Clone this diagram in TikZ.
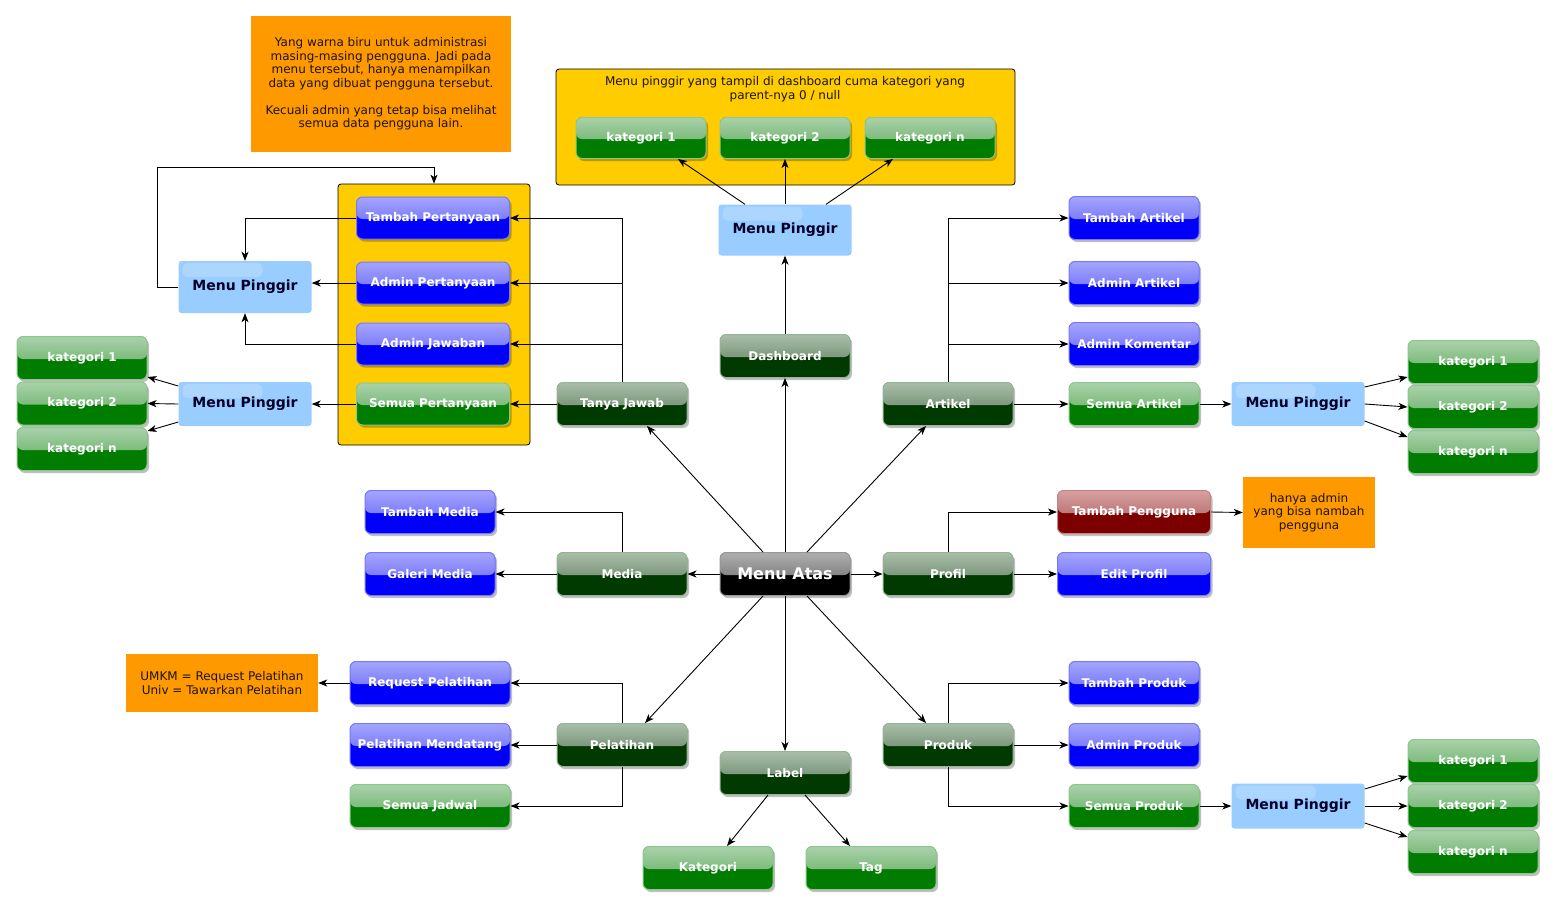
\documentclass[tikz,border=0pt]{standalone}
\usepackage{fontspec}
\setmainfont{DejaVu Sans}
\usetikzlibrary{arrows.meta,shadows,calc}
\definecolor{dgB}{RGB}{0,58,0}
\definecolor{dgT1}{RGB}{170,190,170}
\definecolor{dgT2}{RGB}{85,115,85}
\definecolor{dgL}{RGB}{150,180,150}
\definecolor{bkB}{RGB}{0,0,0}
\definecolor{bkT1}{RGB}{175,175,175}
\definecolor{bkT2}{RGB}{95,95,95}
\definecolor{bkL}{RGB}{150,150,150}
\definecolor{blB}{RGB}{0,0,250}
\definecolor{blT1}{RGB}{165,165,255}
\definecolor{blT2}{RGB}{90,90,245}
\definecolor{blL}{RGB}{120,120,255}
\definecolor{gnB}{RGB}{0,125,0}
\definecolor{gnT1}{RGB}{170,210,170}
\definecolor{gnT2}{RGB}{85,165,85}
\definecolor{gnL}{RGB}{140,200,140}
\definecolor{rdB}{RGB}{125,0,0}
\definecolor{rdT1}{RGB}{215,160,160}
\definecolor{rdT2}{RGB}{165,85,85}
\definecolor{rdL}{RGB}{200,130,130}
\definecolor{mpC}{RGB}{153,204,255}
\definecolor{mpTx}{RGB}{0,0,40}
\definecolor{yelC}{RGB}{255,204,0}
\definecolor{orC}{RGB}{255,153,0}
\definecolor{noteTx}{RGB}{30,20,0}
\tikzset{
  btnbase/.style={rounded corners=6pt, minimum height=43pt, minimum width=130pt, inner sep=2pt,
    text=white, font=\bfseries\fontsize{12}{13}\selectfont, line width=1pt,
    drop shadow={shadow xshift=2pt, shadow yshift=-2.5pt, opacity=0.25, fill=black}},
  btncol/.style n args={4}{fill=#1, draw=#2,
    path picture={\fill[top color=#3, bottom color=#4] (path picture bounding box.north west) rectangle ([yshift=-1pt]path picture bounding box.east);}},
  dgbtn/.style={btnbase, btncol={dgB}{dgL}{dgT1}{dgT2}},
  bkbtn/.style={btnbase, btncol={bkB}{bkL}{bkT1}{bkT2}, font=\bfseries\fontsize{16}{18}\selectfont},
  blbtn/.style={btnbase, btncol={blB}{blL}{blT1}{blT2}},
  gnbtn/.style={btnbase, btncol={gnB}{gnL}{gnT1}{gnT2}},
  rdbtn/.style={btnbase, btncol={rdB}{rdL}{rdT1}{rdT2}},
  mpbox/.style={rounded corners=3pt, fill=mpC, minimum width=133pt, text=mpTx,
    font=\bfseries\fontsize{14}{16}\selectfont,
    path picture={\fill[white,opacity=0.2,rounded corners=5pt] ([xshift=4pt,yshift=-2pt]path picture bounding box.north west) rectangle ([xshift=84pt,yshift=-16pt]path picture bounding box.north west);}},
  yelbox/.style={draw=black, fill=yelC, rounded corners=3pt, line width=0.8pt},
  notebox/.style={fill=orC, align=center, text=noteTx, inner sep=0pt, font=\fontsize{12}{13.5}\selectfont},
  arr/.style={draw=black, line width=0.9pt, -{Stealth[length=9pt,width=7pt,inset=2.5pt]}},
}
\begin{document}
\begin{tikzpicture}[x=1pt,y=-1pt]
\useasboundingbox (0,0) rectangle (1555,906);
\fill[white] (0,0) rectangle (1555,906);
% containers
\node[yelbox, minimum width=192pt, minimum height=261pt] (contL) at (434,314.5) {};
\node[yelbox, minimum width=459pt, minimum height=116pt] (contT) at (785.5,127) {};
\node[align=center, text=noteTx, font=\fontsize{12}{13.5}\selectfont] (contTtxt) at (785,89) {Menu pinggir yang tampil di dashboard cuma kategori yang\\parent-nya 0 / null};
% notes
\node[notebox, minimum width=260pt, minimum height=136pt] (noteTop) at (381,84) {Yang warna biru untuk administrasi\\masing-masing pengguna. Jadi pada\\menu tersebut, hanya menampilkan\\data yang dibuat pengguna tersebut.\\[13.5pt]Kecuali admin yang tetap bisa melihat\\semua data pengguna lain.};
\node[notebox, minimum width=132pt, minimum height=71pt] (noteR) at (1309,512.5) {hanya admin\\yang bisa nambah\\pengguna};
\node[notebox, minimum width=192pt, minimum height=58pt] (noteU) at (222,683) {UMKM = Request Pelatihan\\Univ = Tawarkan Pelatihan};
% main
\node[bkbtn] (ma) at (785,574) {Menu Atas};
\node[dgbtn] (tj) at (622,404) {Tanya Jawab};
\node[dgbtn] (db) at (785,356) {Dashboard};
\node[dgbtn] (ar) at (948,404) {Artikel};
\node[dgbtn] (me) at (622,574) {Media};
\node[dgbtn] (pr) at (948,574) {Profil};
\node[dgbtn] (pl) at (622,745) {Pelatihan};
\node[dgbtn] (lb) at (785,773) {Label};
\node[dgbtn] (pd) at (948,745) {Produk};
% tanya jawab
\node[blbtn, minimum width=153pt, minimum height=42pt] (tp) at (433,218) {Tambah Pertanyaan};
\node[blbtn, minimum width=153pt, minimum height=42pt] (ap) at (433,283) {Admin Pertanyaan};
\node[blbtn, minimum width=153pt, minimum height=42pt] (aj) at (433,344) {Admin Jawaban};
\node[gnbtn, minimum width=153pt, minimum height=42pt] (sp) at (433,404) {Semua Pertanyaan};
\node[mpbox, minimum height=52pt] (mp1) at (245,287) {Menu Pinggir};
\node[mpbox, minimum height=44pt] (mp2) at (245,404) {Menu Pinggir};
\node[gnbtn] (kl1) at (82,358) {kategori 1};
\node[gnbtn] (kl2) at (82,403.5) {kategori 2};
\node[gnbtn] (kln) at (82,449) {kategori n};
% dashboard
\node[mpbox, minimum height=51pt] (mpT) at (785,230) {Menu Pinggir};
\node[gnbtn, minimum height=41pt] (kt1) at (641,138) {kategori 1};
\node[gnbtn, minimum height=41pt] (kt2) at (785,138) {kategori 2};
\node[gnbtn, minimum height=41pt] (ktn) at (930,138) {kategori n};
% media
\node[blbtn] (tm) at (430,512) {Tambah Media};
\node[blbtn] (gm) at (430,574) {Galeri Media};
% artikel
\node[blbtn] (ta) at (1134,218) {Tambah Artikel};
\node[blbtn] (aa) at (1134,283) {Admin Artikel};
\node[blbtn] (ak) at (1134,344) {Admin Komentar};
\node[gnbtn] (sa) at (1134,404) {Semua Artikel};
\node[mpbox, minimum height=44pt] (mpR) at (1298,404) {Menu Pinggir};
\node[gnbtn] (kr1) at (1473,362) {kategori 1};
\node[gnbtn] (kr2) at (1473,407) {kategori 2};
\node[gnbtn] (krn) at (1473,452) {kategori n};
% profil
\node[rdbtn, minimum width=153pt] (tpg) at (1134,512) {Tambah Pengguna};
\node[blbtn, minimum width=153pt] (ep) at (1134,574) {Edit Profil};
% produk
\node[blbtn] (tpr) at (1134,683) {Tambah Produk};
\node[blbtn] (apr) at (1134,745) {Admin Produk};
\node[gnbtn] (spr) at (1134,806) {Semua Produk};
\node[mpbox, minimum height=45pt] (mpRB) at (1298,806) {Menu Pinggir};
\node[gnbtn] (krb1) at (1473,761) {kategori 1};
\node[gnbtn] (krb2) at (1473,806) {kategori 2};
\node[gnbtn] (krbn) at (1473,852) {kategori n};
% pelatihan
\node[blbtn, minimum width=160pt] (rp) at (430,683) {Request Pelatihan};
\node[blbtn, minimum width=160pt] (pm) at (430,745) {Pelatihan Mendatang};
\node[gnbtn, minimum width=160pt] (sj) at (430,806) {Semua Jadwal};
% label
\node[gnbtn] (kat) at (708,868) {Kategori};
\node[gnbtn] (tag) at (871,868) {Tag};
\coordinate (loopc) at (157,167);
% connectors from Menu Atas
\draw[arr] ([xshift=-22pt]ma.north) -- ([xshift=25pt]tj.south);
\draw[arr] (ma.north) -- (db.south);
\draw[arr] ([xshift=22pt]ma.north) -- ([xshift=-22pt]ar.south);
\draw[arr] (ma.west) -- (me.east);
\draw[arr] (ma.east) -- (pr.west);
\draw[arr] ([xshift=-22pt]ma.south) -- ([xshift=23pt]pl.north);
\draw[arr] (ma.south) -- (lb.north);
\draw[arr] ([xshift=22pt]ma.south) -- ([xshift=-22pt]pd.north);
% dashboard
\draw[arr] (db.north) -- (mpT.south);
\draw[arr] ([xshift=-40pt]mpT.north) -- ([xshift=37pt]kt1.south);
\draw[arr] (mpT.north) -- (kt2.south);
\draw[arr] ([xshift=41pt]mpT.north) -- ([xshift=-37pt]ktn.south);
% tanya jawab
\draw[arr] (tj.north) |- (tp.east);
\draw[arr] (tj.north) |- (ap.east);
\draw[arr] (tj.north) |- (aj.east);
\draw[arr] (tj.west) -- (sp.east);
\draw[arr] (tp.west) -| (mp1.north);
\draw[arr] (ap.west) -- (ap.west -| mp1.east);
\draw[arr] (aj.west) -| (mp1.south);
\draw[arr] (mp1.west) -| (loopc) -| (contL.north);
\draw[arr] (sp.west) -- (mp2.east);
\draw[arr] ([yshift=18pt]mp2.west) -- ([yshift=-19pt]kl1.east);
\draw[arr] (mp2.west) -- (kl2.east);
\draw[arr] ([yshift=-18pt]mp2.west) -- ([yshift=18pt]kln.east);
% artikel
\draw[arr] (ar.north) |- (ta.west);
\draw[arr] (ar.north) |- (aa.west);
\draw[arr] (ar.north) |- (ak.west);
\draw[arr] (ar.east) -- (sa.west);
\draw[arr] (sa.east) -- (mpR.west);
\draw[arr] ([yshift=17pt]mpR.east) -- ([yshift=-15pt]kr1.west);
\draw[arr] (mpR.east) -- (kr2.west);
\draw[arr] ([yshift=-17pt]mpR.east) -- ([yshift=15pt]krn.west);
% media
\draw[arr] (me.north) |- (tm.east);
\draw[arr] (me.west) -- (gm.east);
% profil
\draw[arr] (pr.north) |- (tpg.west);
\draw[arr] (pr.east) -- (ep.west);
\draw[arr] (tpg.east) -- (noteR.west);
% pelatihan
\draw[arr] (pl.north) |- (rp.east);
\draw[arr] (pl.west) -- (pm.east);
\draw[arr] (pl.south) |- (sj.east);
\draw[arr] (rp.west) -- (noteU.east);
% produk
\draw[arr] (pd.north) |- (tpr.west);
\draw[arr] (pd.east) -- (apr.west);
\draw[arr] (pd.south) |- (spr.west);
\draw[arr] (spr.east) -- (mpRB.west);
\draw[arr] ([yshift=17pt]mpRB.east) -- ([yshift=-15pt]krb1.west);
\draw[arr] (mpRB.east) -- (krb2.west);
\draw[arr] ([yshift=-17pt]mpRB.east) -- ([yshift=15pt]krbn.west);
% label
\draw[arr] ([xshift=-17pt]lb.south) -- ([xshift=19pt]kat.north);
\draw[arr] ([xshift=20pt]lb.south) -- ([xshift=-21pt]tag.north);
\end{tikzpicture}
\end{document}
